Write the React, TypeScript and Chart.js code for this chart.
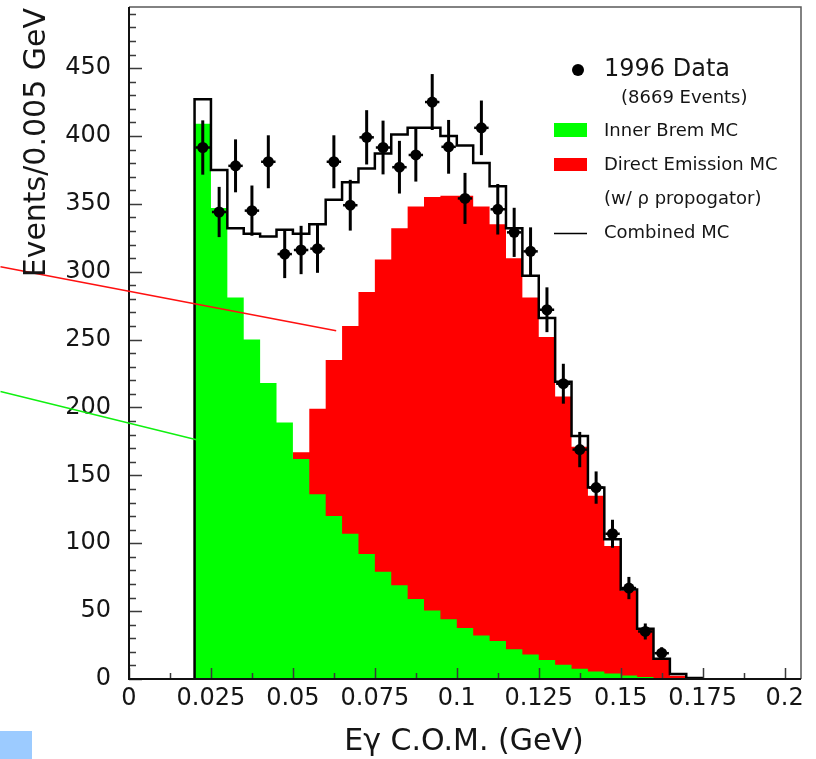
import React, { useEffect, useRef } from 'react';
import { Chart, registerables } from 'chart.js';

Chart.register(...registerables);

// ---------------- DATA ----------------
const BIN_WIDTH = 0.005;
const binStarts = [
  0.020, 0.025, 0.030, 0.035, 0.040, 0.045, 0.050, 0.055, 0.060, 0.065,
  0.070, 0.075, 0.080, 0.085, 0.090, 0.095, 0.100, 0.105, 0.110, 0.115,
  0.120, 0.125, 0.130, 0.135, 0.140, 0.145, 0.150, 0.155, 0.160, 0.165, 0.170,
];
const innerBremMC = [
  409, 347, 281, 250, 218, 189, 162, 136, 120, 107,
  92, 79, 69, 59, 50.5, 44, 37.5, 32, 28, 22,
  18, 14, 10.5, 7.5, 5.5, 4, 2.5, 1.5, 0.8, 0.3, 0,
];
const directEmissionMC = [
  18, 28, 51, 78, 108, 142, 167, 199, 235, 260,
  285, 309, 332, 348, 355, 356, 356, 348, 335, 310,
  281, 252, 208, 171, 135, 98, 65, 37, 14, 2.4, 0,
];
const combinedMC = [
  427, 375, 332, 328, 326, 331, 328, 335, 353, 366,
  376, 387, 401, 406, 406, 400, 393, 380, 363, 332,
  297, 266, 219, 179, 141, 103, 66, 37, 15, 3.7, 0.8,
];
const dataX = [
  0.0225, 0.0275, 0.0325, 0.0375, 0.0425, 0.0475, 0.0525, 0.0575, 0.0625, 0.0675,
  0.0725, 0.0775, 0.0825, 0.0875, 0.0925, 0.0975, 0.1025, 0.1075, 0.1125, 0.1175,
  0.1225, 0.1275, 0.1325, 0.1375, 0.1425, 0.1475, 0.1525, 0.1575, 0.1625,
];
const dataY = [
  391.5, 344, 378, 345, 381, 313, 316, 317, 381, 349,
  399, 391.5, 377, 386, 425, 392, 354, 406, 346, 329,
  315, 272, 217.5, 169, 141, 107, 67, 35, 19,
];
const dataErr = [
  20, 18.5, 19.5, 18.5, 19.5, 17.7, 17.8, 17.8, 19.5, 18.7,
  20, 19.8, 19.4, 19.6, 20.6, 19.8, 18.8, 20.1, 18.6, 18.1,
  17.7, 16.5, 14.7, 13, 11.9, 10.3, 8.2, 5.9, 4.4,
];
const xTickValues = [0, 0.025, 0.05, 0.075, 0.1, 0.125, 0.15, 0.175, 0.2];
const xTickLabels = ['0', '0.025', '0.05', '0.075', '0.1', '0.125', '0.15', '0.175', '0.2'];
const yTickValues = [0, 50, 100, 150, 200, 250, 300, 350, 400, 450];
const yTickLabels = ['0', '50', '100', '150', '200', '250', '300', '350', '400', '450'];
const xMinorStep = 0.0125;
const yMinorStep = 10;
const X_MIN = 0;
const X_MAX = 0.205;
const Y_MIN = 0;
const Y_MAX = 495;

// annotation arrows (data coordinates, may lie outside the frame)
const redArrow = [{ x: -0.0392, y: 303.7 }, { x: 0.0632, y: 256.5 }];
const greenArrow = [{ x: -0.0392, y: 211.7 }, { x: 0.0206, y: 176.2 }];

const FONT = "'DejaVu Sans', 'Liberation Sans', sans-serif";
const TEXT = '#151515';

function stepPoints(starts: number[], vals: number[]) {
  const pts: { x: number; y: number }[] = [{ x: starts[0], y: 0 }];
  starts.forEach((s, i) => pts.push({ x: s, y: vals[i] }));
  pts.push({ x: starts[starts.length - 1] + BIN_WIDTH, y: 0 });
  return pts;
}

const decorPlugin = {
  id: 'decor',
  afterDatasetsDraw(chart: any) {
    const { ctx, chartArea: a, scales } = chart;
    const xs = scales.x;
    const ys = scales.y;
    ctx.save();
    // error bars
    ctx.strokeStyle = '#000';
    ctx.lineCap = 'butt';
    for (let i = 0; i < dataX.length; i++) {
      const px = xs.getPixelForValue(dataX[i]);
      const py = ys.getPixelForValue(dataY[i]);
      ctx.lineWidth = 3;
      ctx.beginPath();
      ctx.moveTo(px, ys.getPixelForValue(dataY[i] + dataErr[i]));
      ctx.lineTo(px, ys.getPixelForValue(dataY[i] - dataErr[i]));
      ctx.stroke();
      ctx.lineWidth = 2.5;
      ctx.beginPath();
      ctx.moveTo(xs.getPixelForValue(dataX[i] - 0.0022), py);
      ctx.lineTo(xs.getPixelForValue(dataX[i] + 0.0022), py);
      ctx.stroke();
    }
    // ticks (inward)
    ctx.strokeStyle = '#3a3a3a';
    ctx.lineWidth = 1.5;
    ctx.beginPath();
    for (let v = Y_MIN; v <= Y_MAX; v += yMinorStep) {
      const py = Math.round(ys.getPixelForValue(v)) + 0.5;
      const major = yTickValues.includes(v);
      ctx.moveTo(a.left, py);
      ctx.lineTo(a.left + (major ? 13 : 7), py);
    }
    for (let v = X_MIN; v <= X_MAX + 1e-9; v += xMinorStep) {
      const px = Math.round(xs.getPixelForValue(v)) + 0.5;
      const major = xTickValues.some((t) => Math.abs(t - v) < 1e-6);
      ctx.moveTo(px, a.bottom);
      ctx.lineTo(px, a.bottom - (major ? 11 : 6));
    }
    ctx.stroke();
    // frame
    ctx.strokeStyle = '#5a5a5a';
    ctx.lineWidth = 1.5;
    ctx.beginPath();
    ctx.moveTo(a.left, a.top);
    ctx.lineTo(a.right, a.top);
    ctx.lineTo(a.right, a.bottom);
    ctx.stroke();
    ctx.strokeStyle = '#111';
    ctx.lineWidth = 2;
    ctx.beginPath();
    ctx.moveTo(a.left, a.top);
    ctx.lineTo(a.left, a.bottom);
    ctx.lineTo(a.right, a.bottom);
    ctx.stroke();
    ctx.restore();
  },
  afterDraw(chart: any) {
    const { ctx, scales } = chart;
    const xs = scales.x;
    const ys = scales.y;
    ctx.save();
    // annotation lines
    ctx.lineWidth = 1.5;
    ctx.strokeStyle = '#ff1010';
    ctx.beginPath();
    ctx.moveTo(xs.getPixelForValue(redArrow[0].x), ys.getPixelForValue(redArrow[0].y));
    ctx.lineTo(xs.getPixelForValue(redArrow[1].x), ys.getPixelForValue(redArrow[1].y));
    ctx.stroke();
    ctx.strokeStyle = '#10f010';
    ctx.beginPath();
    ctx.moveTo(xs.getPixelForValue(greenArrow[0].x), ys.getPixelForValue(greenArrow[0].y));
    ctx.lineTo(xs.getPixelForValue(greenArrow[1].x), ys.getPixelForValue(greenArrow[1].y));
    ctx.stroke();
    // blue square bottom-left
    ctx.fillStyle = '#9ccbff';
    ctx.fillRect(0, 731, 32, 28);

    // axis titles
    ctx.fillStyle = TEXT;
    ctx.font = `30px ${FONT}`;
    ctx.textBaseline = 'middle';
    ctx.save();
    ctx.translate(37, 8);
    ctx.rotate(-Math.PI / 2);
    ctx.textAlign = 'right';
    ctx.fillText('Events/0.005 GeV', 0, 0);
    ctx.restore();
    ctx.textAlign = 'center';
    ctx.fillText('E\u03B3 C.O.M. (GeV)', 464, 742);

    // legend
    ctx.textAlign = 'left';
    ctx.fillStyle = '#000';
    ctx.beginPath();
    ctx.arc(578, 70, 6, 0, Math.PI * 2);
    ctx.fill();
    ctx.fillStyle = TEXT;
    ctx.font = `24px ${FONT}`;
    ctx.fillText('1996 Data', 604, 70);
    ctx.font = `18px ${FONT}`;
    ctx.fillText('(8669 Events)', 621, 98);
    ctx.fillStyle = '#00ff00';
    ctx.fillRect(554, 123, 33, 14);
    ctx.fillStyle = '#ff0000';
    ctx.fillRect(554, 158, 33, 13);
    ctx.fillStyle = TEXT;
    ctx.fillText('Inner Brem MC', 604, 131);
    ctx.fillText('Direct Emission MC', 604, 165);
    ctx.fillText('(w/ \u03C1 propogator)', 604, 199);
    ctx.fillText('Combined MC', 604, 233);
    ctx.strokeStyle = '#000';
    ctx.lineWidth = 1.5;
    ctx.beginPath();
    ctx.moveTo(554, 233.5);
    ctx.lineTo(587, 233.5);
    ctx.stroke();
    ctx.restore();
  },
};

export default function App() {
  const ref = useRef<HTMLCanvasElement | null>(null);
  useEffect(() => {
    if (!ref.current) return;
    const chart = new Chart(ref.current, {
      type: 'line',
      data: {
        datasets: [
          {
            type: 'scatter',
            label: '1996 Data',
            data: dataX.map((x, i) => ({ x, y: dataY[i] })),
            backgroundColor: '#000',
            borderColor: '#000',
            pointRadius: 5.5,
            pointBorderWidth: 0,
            showLine: false,
          } as any,
          {
            label: 'Combined MC',
            data: stepPoints(binStarts, combinedMC),
            borderColor: '#000',
            borderWidth: 2.5,
            stepped: 'before',
            fill: false,
            pointRadius: 0,
          },
          {
            label: 'Inner Brem MC',
            data: stepPoints(binStarts, innerBremMC),
            borderWidth: 0,
            borderColor: 'rgba(0,0,0,0)',
            backgroundColor: '#00ff00',
            stepped: 'before',
            fill: 'origin',
            pointRadius: 0,
          },
          {
            label: 'Direct Emission MC',
            data: stepPoints(binStarts, directEmissionMC),
            borderWidth: 0,
            borderColor: 'rgba(0,0,0,0)',
            backgroundColor: '#ff0000',
            stepped: 'before',
            fill: 'origin',
            pointRadius: 0,
          },
        ],
      },
      options: {
        responsive: false,
        animation: false,
        layout: { padding: { left: 0, right: 15, top: 7, bottom: 0 } },
        plugins: { legend: { display: false }, tooltip: { enabled: false } },
        scales: {
          x: {
            type: 'linear',
            min: X_MIN,
            max: X_MAX,
            grid: { display: false, drawTicks: false },
            border: { display: false },
            afterFit: (s: any) => {
              s.height = 80;
              s.paddingLeft = 0;
              s.paddingRight = 0;
            },
            afterBuildTicks: (s: any) => {
              s.ticks = xTickValues.map((v) => ({ value: v }));
            },
            ticks: {
              autoSkip: false,
              maxRotation: 0,
              padding: 5,
              color: TEXT,
              font: { family: FONT, size: 24 },
              callback: (v: any) => {
                const i = xTickValues.findIndex((t) => Math.abs(t - Number(v)) < 1e-9);
                return i >= 0 ? xTickLabels[i] : '';
              },
            },
          },
          y: {
            type: 'linear',
            min: Y_MIN,
            max: Y_MAX,
            grid: { display: false, drawTicks: false },
            border: { display: false },
            afterFit: (s: any) => {
              s.width = 129;
              s.paddingTop = 0;
              s.paddingBottom = 0;
            },
            afterBuildTicks: (s: any) => {
              s.ticks = yTickValues.map((v) => ({ value: v }));
            },
            ticks: {
              autoSkip: false,
              padding: 18,
              color: TEXT,
              font: { family: FONT, size: 24 },
              callback: (v: any) => {
                const i = yTickValues.indexOf(Number(v));
                return i >= 0 ? yTickLabels[i] : '';
              },
            },
          },
        },
      } as any,
      plugins: [decorPlugin],
    });
    return () => chart.destroy();
  }, []);
  return (
    <div style={{ position: 'fixed', left: 0, top: 0, width: 816, height: 759, background: '#fff' }}>
      <canvas ref={ref} width={816} height={759} style={{ display: 'block' }} />
    </div>
  );
}
